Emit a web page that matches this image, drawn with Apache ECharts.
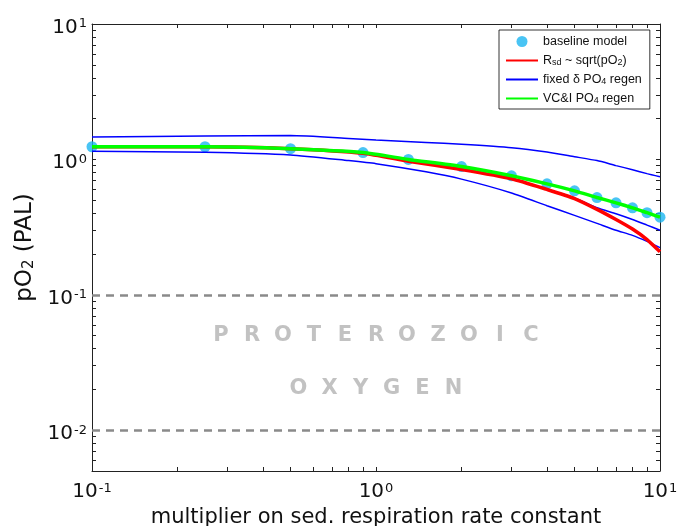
<!DOCTYPE html>
<html><head><meta charset="utf-8">
<script src="https://cdn.jsdelivr.net/npm/echarts@6/dist/echarts.min.js"></script>
<style>html,body{margin:0;padding:0;background:#fff}#c{width:677px;height:526px}</style>
</head><body><div id="c"></div>
<script>
// ---- data ----
const multiplier = [0.1, 0.25, 0.5, 0.9, 1.3, 2, 3, 4, 5, 6, 7, 8, 9, 10];
const baselineModel = [1.24, 1.24, 1.20, 1.124, 1.0, 0.886, 0.757, 0.66, 0.586, 0.523, 0.478, 0.439, 0.404, 0.3745];
const vciRegen = [1.24, 1.24, 1.20, 1.124, 1.0, 0.886, 0.757, 0.66, 0.586, 0.523, 0.478, 0.439, 0.404, 0.3745];
const rsdSqrt = [1.24, 1.24, 1.20, 1.11, 0.97, 0.842, 0.72, 0.60, 0.514, 0.428, 0.36, 0.306, 0.256, 0.208];
const fixedMid = [1.24, 1.24, 1.20, 1.11, 0.97, 0.842, 0.72, 0.60, 0.52, 0.44, 0.397, 0.36, 0.327, 0.30];
const blueX = [0.1, 0.25, 0.5, 0.8, 1, 1.5, 2, 3, 4, 5, 6, 7, 8, 9, 10];
const fixedHigh = [1.467, 1.49, 1.50, 1.43, 1.39, 1.335, 1.293, 1.22, 1.135, 1.047, 0.98, 0.90, 0.84, 0.785, 0.744];
const fixedLow = [1.15, 1.13, 1.08, 0.98, 0.93, 0.81, 0.715, 0.565, 0.455, 0.386, 0.337, 0.30, 0.275, 0.248, 0.223];
const proterozoicBounds = [0.1, 0.01];
const overlayWords = ['PROTEROZOIC', 'OXYGEN'];
const overlayX = [1, 1];
const overlayY = [0.0502, 0.0204];
const xTickValues = [0.1,0.2,0.3,0.4,0.5,0.6,0.7,0.8,0.9,1,2,3,4,5,6,7,8,9,10];
const yTickValues = [0.005,0.006,0.007,0.008,0.009,0.01,0.02,0.03,0.04,0.05,0.06,0.07,0.08,0.09,0.1,0.2,0.3,0.4,0.5,0.6,0.7,0.8,0.9,1,2,3,4,5,6,7,8,9,10];
const xLabelValues = [0.1, 1, 10];
const yLabelValues = [0.01, 0.1, 1, 10];
const legendNames = ['baseline model', 'Rsd', 'fixed', 'VCI'];

// ---- helpers ----
const pair = (xs, ys) => xs.map((x, i) => [x, ys[i]]);
const FONT = 'DejaVu Sans';
const supFmt = v => '{b|10}{s|' + Math.round(Math.log10(v)) + '}';
const labelRich = {
  b: {fontSize: 20, fontFamily: FONT, color: '#111'},
  s: {fontSize: 13, fontFamily: FONT, color: '#111', verticalAlign: 'top', padding: [0, 0, 0, 1]}
};
const axisBase = (extra) => Object.assign({
  type: 'log', logBase: 10,
  axisLine: {show: true, lineStyle: {color: '#222', width: 1}},
  splitLine: {show: false},
  minorTick: {show: false},
}, extra);
const tickStyle = vals => ({show: true, inside: true, length: 4, customValues: vals, lineStyle: {color: '#222', width: 1}});

const legendLabels = {
  'baseline model': 'baseline model',
  'Rsd': 'R{sub|sd} ~ sqrt(pO{sub|2})',
  'fixed': 'fixed δ PO{sub|4} regen',
  'VCI': 'VC&I PO{sub|4} regen'
};

const chart = echarts.init(document.getElementById('c'), null, {renderer: 'canvas'});
chart.setOption({
  animation: false,
  backgroundColor: '#fff',
  grid: {left: 92, right: 17, top: 24, bottom: 55, containLabel: false, outerBoundsMode: 'none'},
  legend: {
    data: legendNames.map((n, i) => i === 0 ? {name: n} : {name: n, itemStyle: {opacity: 0}}),
    orient: 'vertical',
    left: 499, top: 30,
    padding: [5, 8, 4, 6],
    itemGap: 6,
    itemWidth: 32, itemHeight: 11,
    backgroundColor: '#fff',
    borderColor: '#000', borderWidth: 0.8,
    selectedMode: false,
    formatter: n => legendLabels[n],
    textStyle: {
      fontFamily: 'Liberation Sans', fontSize: 12.5, color: '#111',
      rich: {sub: {fontFamily: 'Liberation Sans', fontSize: 9, verticalAlign: 'bottom', color: '#111'}}
    }
  },
  xAxis: [
    axisBase({
      min: 0.1, max: 10, position: 'bottom',
      axisTick: tickStyle(xTickValues),
      axisLabel: {show: true, customValues: xLabelValues, formatter: supFmt, rich: labelRich, margin: 11},
      name: 'multiplier on sed. respiration rate constant',
      nameLocation: 'middle', nameGap: 33,
      nameTextStyle: {fontFamily: FONT, fontSize: 21, color: '#111', verticalAlign: 'top'}
    }),
    axisBase({
      min: 0.1, max: 10, position: 'top',
      axisTick: tickStyle(xTickValues),
      axisLabel: {show: false}
    })
  ],
  yAxis: [
    axisBase({
      min: 0.005, max: 10, position: 'left',
      axisTick: tickStyle(yTickValues),
      axisLabel: {show: true, customValues: yLabelValues, formatter: supFmt, rich: labelRich, margin: 5, padding: [7, 0, 0, 0]},
      name: 'pO{sub|2} (PAL)',
      nameLocation: 'middle', nameGap: 47, nameRotate: 90,
      nameTextStyle: {fontFamily: FONT, fontSize: 23, color: '#111',
        rich: {sub: {fontFamily: FONT, fontSize: 15, color: '#111', verticalAlign: 'bottom'}}}
    }),
    axisBase({
      min: 0.005, max: 10, position: 'right',
      axisTick: tickStyle(yTickValues),
      axisLabel: {show: false}
    })
  ],
  series: [
    {
      name: 'fixed', type: 'line', data: pair(blueX, fixedHigh), symbol: 'none', smooth: 0.2,
      lineStyle: {color: '#0000ff', width: 1.5}, itemStyle: {color: '#0000ff'},
      markLine: {
        silent: true, symbol: ['none', 'none'], label: {show: false},
        lineStyle: {color: '#8a8a8a', width: 2.5, type: [8, 6]},
        data: proterozoicBounds.map(v => ({yAxis: v}))
      }
    },
    {name: 'fixed', type: 'line', data: pair(multiplier, fixedMid), symbol: 'none', smooth: 0.2,
      lineStyle: {color: '#0000ff', width: 1.5}, itemStyle: {color: '#0000ff'}},
    {name: 'fixed', type: 'line', data: pair(blueX, fixedLow), symbol: 'none', smooth: 0.2,
      lineStyle: {color: '#0000ff', width: 1.5}, itemStyle: {color: '#0000ff'}},
    {name: 'Rsd', type: 'line', data: pair(multiplier, rsdSqrt), symbol: 'none', smooth: 0.2,
      lineStyle: {color: '#ff0000', width: 3.5}, itemStyle: {color: '#ff0000'}},
    {name: 'VCI', type: 'line', data: pair(multiplier, vciRegen), symbol: 'none', smooth: 0.2,
      lineStyle: {color: '#00ff00', width: 3.5}, itemStyle: {color: '#00ff00'}},
    {name: 'baseline model', type: 'scatter', data: pair(multiplier, baselineModel), symbol: 'circle', symbolSize: 11,
      itemStyle: {color: '#1bb5f1'}},
    {name: 'overlay', type: 'scatter', data: pair(overlayX, overlayY), symbolSize: 0, silent: true,
      label: {
        show: true, position: 'inside',
        formatter: p => overlayWords[p.dataIndex].split('').map(c => '{l|' + c + '}').join(''),
        rich: {l: {fontFamily: FONT, fontSize: 21, fontWeight: 'bold', color: '#b3b3b3', width: 31, align: 'center'}}
      }
    }
  ]
});
</script>
</body></html>
